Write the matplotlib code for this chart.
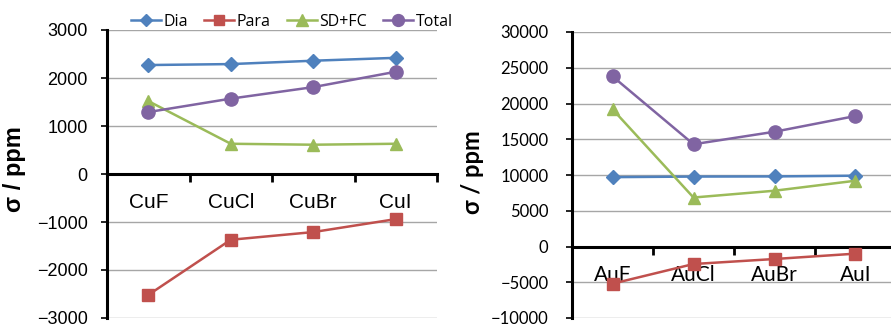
import matplotlib.pyplot as plt

# data
cu_salts = ['CuF', 'CuCl', 'CuBr', 'CuI']
cu_dia = [2270, 2290, 2360, 2420]
cu_para = [-2520, -1370, -1210, -940]
cu_sdfc = [1520, 630, 610, 630]
cu_total = [1290, 1570, 1810, 2130]

au_salts = ['AuF', 'AuCl', 'AuBr', 'AuI']
au_dia = [9700, 9780, 9800, 9900]
au_para = [-5200, -2450, -1750, -1000]
au_sdfc = [19200, 6850, 7800, 9200]
au_total = [23800, 14300, 16050, 18250]

series_names = ['Dia', 'Para', 'SD+FC', 'Total']
colors = ['#4F81BD', '#C0504D', '#9BBB59', '#8064A2']
markers = ['D', 's', '^', 'o']
msizes = [7, 8.5, 9, 9.5]

W, H = 891, 327
fig = plt.figure(figsize=(W / 100, H / 100), dpi=100)


def px_axes(x0, y_top, x1, y_bot):
    return fig.add_axes([x0 / W, 1 - y_bot / H, (x1 - x0) / W, (y_bot - y_top) / H])


def style_axes(ax, labels, ylim, yticks, tick_font, cat_pad, ytick_size, ytick_pad):
    x = range(len(labels))
    ax.set_xlim(-0.5, len(labels) - 0.5)
    ax.set_ylim(*ylim)
    ax.set_yticks(yticks)
    ax.yaxis.grid(True, color='#A6A6A6', lw=1.0)
    ax.set_axisbelow(True)
    for s in ['top', 'right']:
        ax.spines[s].set_visible(False)
    ax.spines['left'].set_linewidth(2.2)
    ax.spines['bottom'].set_linewidth(2.2)
    ax.spines['bottom'].set_position(('data', 0))
    ax.tick_params(axis='y', direction='out', length=4, width=1.2, pad=ytick_pad,
                   labelsize=ytick_size)
    for t in ax.get_yticklabels():
        t.set_family(tick_font)
    # category boundaries get tick marks, names sit at the category centres
    ax.set_xticks([i + 0.5 for i in x])
    ax.set_xticklabels([])
    ax.tick_params(axis='x', which='major', direction='out', length=6, width=2)
    ax.set_xticks(list(x), minor=True)
    ax.set_xticklabels(labels, minor=True)
    ax.tick_params(axis='x', which='minor', length=0, pad=cat_pad, labelsize=15)
    for t in ax.get_xticklabels(minor=True):
        t.set_family(tick_font)


# left panel: copper halides
ax1 = px_axes(107, 30, 437, 318)
for vals, name, c, m, ms in zip([cu_dia, cu_para, cu_sdfc, cu_total], series_names,
                                colors, markers, msizes):
    ax1.plot(range(4), vals, color=c, marker=m, ms=ms, lw=1.8, label=name, zorder=3)
style_axes(ax1, cu_salts, (-3000, 3000), range(-3000, 3001, 1000),
           'Liberation Sans', 14, 13, 10)
leg = ax1.legend(loc='center left', bbox_to_anchor=(0.072, 1.028), ncol=4, frameon=False,
                 prop={'family': 'Open Sans', 'size': 11.5}, handlelength=1.9,
                 handletextpad=0.15, columnspacing=1.0, markerscale=0.9,
                 borderpad=0, borderaxespad=0)
ax1.set_ylabel('σ / ppm', fontsize=17, fontweight='bold', family='Liberation Sans')
ax1.yaxis.set_label_coords(-0.245, 0.517)

# right panel: gold halides
ax2 = px_axes(572, 32, 896, 318)
for vals, name, c, m, ms in zip([au_dia, au_para, au_sdfc, au_total], series_names,
                                colors, markers, msizes):
    ax2.plot(range(4), vals, color=c, marker=m, ms=ms, lw=1.8, label=name, zorder=3)
style_axes(ax2, au_salts, (-10000, 30000), range(-10000, 30001, 5000),
           'Lato', 13, 12, 13)
ax2.set_ylabel('σ / ppm', fontsize=17, fontweight='bold', family='Lato')
ax2.yaxis.set_label_coords(-0.272, 0.51)

fig.savefig('out.png', dpi=100)
